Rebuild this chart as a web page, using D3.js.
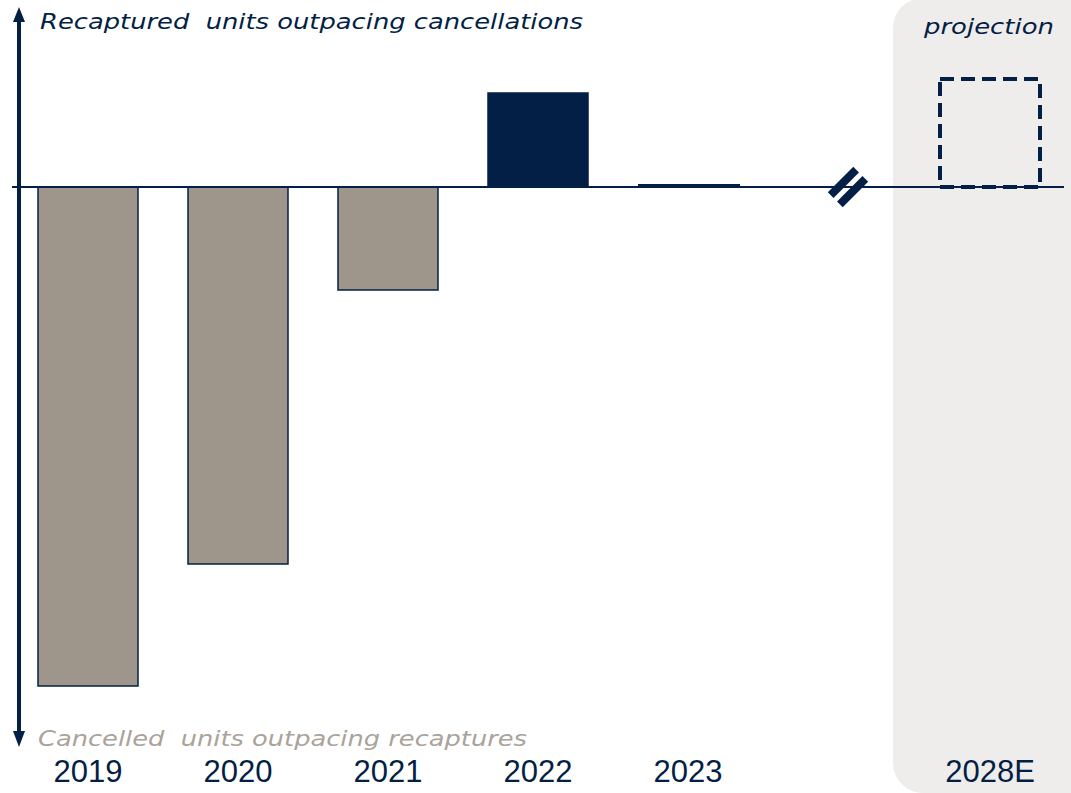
<!DOCTYPE html>
<html>
<head>
<meta charset="utf-8">
<script src="https://cdn.jsdelivr.net/npm/d3@7"></script>
<style>
  html, body { margin: 0; padding: 0; background: #fff; }
  svg { display: block; }
  text { white-space: pre; }
</style>
</head>
<body>
<script>
// Net recaptured vs. cancelled units by year
const categories = ["2019", "2020", "2021", "2022", "2023", "break", "2028E"];
const actualYears = ["2019", "2020", "2021", "2022", "2023"];
const netUnits = [-499, -377, -103, 94, 2];
const projectionYear = "2028E";
const projectionValue = 108;
const topLabel = "Recaptured  units outpacing cancellations";
const bottomLabel = "Cancelled  units outpacing recaptures";
const projectionLabel = "projection";

const W = 1071, H = 793;
const navy = "#041f45", gray = "#9e968b", grayText = "#aaa39a", panel = "#efedeb";

const svg = d3.select("body").append("svg").attr("width", W).attr("height", H);

const x = d3.scaleBand().domain(categories).range([13, 1063])
  .paddingInner(1 / 3).paddingOuter(1 / 6);
const y = d3.scaleLinear().domain([-558, 187]).range([745, 0]);

// projection panel
svg.append("rect")
  .attr("x", 893).attr("y", -2).attr("width", 240).attr("height", H + 2)
  .attr("rx", 30).attr("fill", panel);

// actual bars
const data = actualYears.map((c, i) => ({ c, v: netUnits[i] }));
svg.append("g").selectAll("rect").data(data).join("rect")
  .attr("x", d => x(d.c))
  .attr("width", x.bandwidth())
  .attr("y", d => y(Math.max(0, d.v)))
  .attr("height", d => Math.abs(y(d.v) - y(0)))
  .attr("fill", d => d.v >= 0 ? navy : gray)
  .attr("stroke", navy)
  .attr("stroke-width", d => Math.abs(d.v) < 5 ? 0 : 1.5);

// near-zero bar drawn as a thick sliver on the baseline
data.filter(d => Math.abs(d.v) < 5).forEach(d => {
  svg.append("rect")
    .attr("x", x(d.c)).attr("width", x.bandwidth() + 2)
    .attr("y", y(d.v) - 1).attr("height", y(0) - y(d.v) + 1)
    .attr("fill", navy);
});

// projected bar (dashed outline)
svg.append("rect")
  .attr("x", x(projectionYear) + 2)
  .attr("width", x.bandwidth())
  .attr("y", y(projectionValue))
  .attr("height", y(0) - y(projectionValue))
  .attr("fill", "none")
  .attr("stroke", navy).attr("stroke-width", 4)
  .attr("stroke-dasharray", "14,7");

// zero line
svg.append("line")
  .attr("x1", 12).attr("x2", 1064)
  .attr("y1", y(0)).attr("y2", y(0))
  .attr("stroke", navy).attr("stroke-width", 2);

// axis break mark
const bx = x("break") + x.bandwidth() / 2 + 10, by = y(0);
const brk = svg.append("g").attr("transform", `translate(${bx},${by}) rotate(-45)`);
[-6.5, 6.5].forEach(o => {
  brk.append("line").attr("x1", -18).attr("x2", 18).attr("y1", o).attr("y2", o)
    .attr("stroke", navy).attr("stroke-width", 8);
});

// vertical double-headed arrow
const ax = 19;
svg.append("line").attr("x1", ax).attr("x2", ax).attr("y1", 18).attr("y2", 735)
  .attr("stroke", navy).attr("stroke-width", 4);
svg.append("path").attr("d", `M${ax - 6},22 L${ax},7 L${ax + 6},22 Z`).attr("fill", navy);
svg.append("path").attr("d", `M${ax - 6},731 L${ax},747 L${ax + 6},731 Z`).attr("fill", navy);

// direction labels
function italicLabel(tx, ty, txt, color, width) {
  svg.append("text").attr("x", tx).attr("y", ty)
    .style("font-family", "'DejaVu Sans', sans-serif")
    .style("font-size", "22px").style("font-style", "italic")
    .attr("fill", color)
    .attr("textLength", width).attr("lengthAdjust", "spacingAndGlyphs")
    .text(txt);
}
italicLabel(40, 29, topLabel, navy, 543);
italicLabel(38, 746, bottomLabel, grayText, 489);
italicLabel(924, 34, projectionLabel, navy, 130);

// category axis labels
const axis = d3.axisBottom(x).tickSize(0).tickPadding(0)
  .tickFormat(d => d === "break" ? "" : d);
const ga = svg.append("g").attr("transform", `translate(0,760)`).call(axis);
ga.select(".domain").remove();
ga.selectAll("text")
  .style("font-family", "'Liberation Sans', sans-serif")
  .style("font-size", "31px").attr("fill", navy).attr("dy", "0.72em")
  .attr("transform", (d) => d === projectionYear ? "translate(2,0)" : null);
</script>
</body>
</html>
